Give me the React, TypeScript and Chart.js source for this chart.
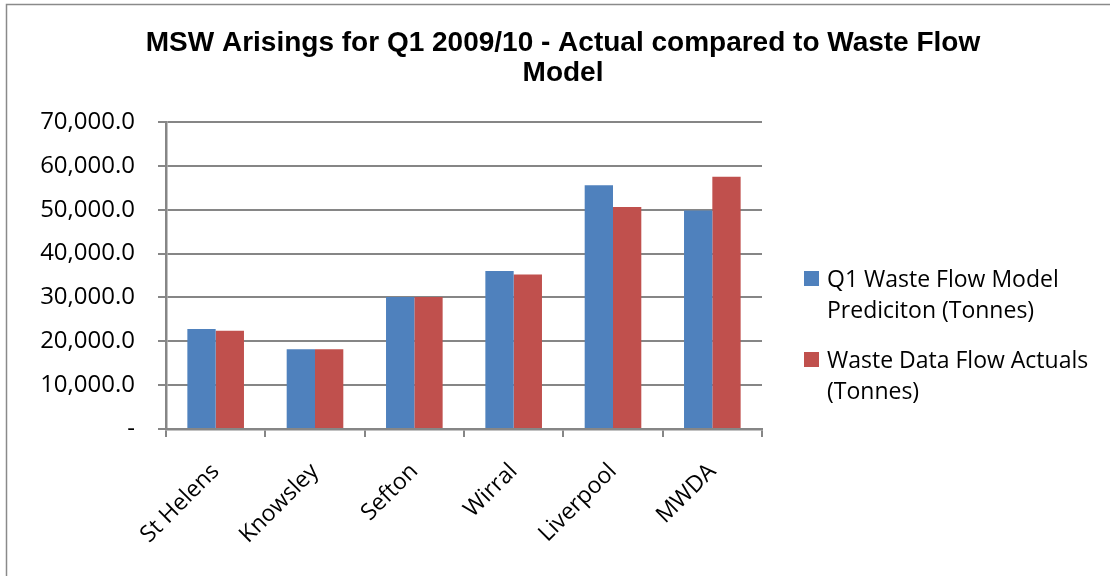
import React, { useEffect, useRef } from "react";
import { Chart, registerables } from "chart.js";

Chart.register(...registerables);

const categories = ["St Helens", "Knowsley", "Sefton", "Wirral", "Liverpool", "MWDA"];
const modelPrediction = [22800, 18200, 30100, 36000, 55600, 49800];
const actuals = [22400, 18200, 30100, 35200, 50600, 57500];
const seriesLabels = [
  ["Q1 Waste Flow Model", "Prediciton (Tonnes)"],
  ["Waste Data Flow Actuals", "(Tonnes)"],
];
const titleLines = ["MSW Arisings for Q1 2009/10 - Actual compared to Waste Flow", "Model"];
const yTicks = [0, 10000, 20000, 30000, 40000, 50000, 60000, 70000];

const BLUE = "#4F81BD";
const RED = "#C0504D";
const GRID = "#868686";
const TEXT_FONT = "'Open Sans', 'Noto Sans', sans-serif";
const TEXT_SIZE = 23;

const fmt = (v: number) =>
  v === 0 ? "-" : v.toLocaleString("en-US", { minimumFractionDigits: 1, maximumFractionDigits: 1 });

const decorPlugin = {
  id: "decor",
  afterDraw(chart: any) {
    const ctx = chart.ctx;
    ctx.save();
    // frame
    ctx.strokeStyle = "#8a8a8a";
    ctx.lineWidth = 1.5;
    ctx.strokeRect(6.5, 4.5, 1200, 700);
    // title
    ctx.fillStyle = "#000";
    ctx.font = "bold 28px 'Liberation Sans', Arial, sans-serif";
    ctx.textAlign = "center";
    ctx.textBaseline = "alphabetic";
    titleLines.forEach((t, i) => ctx.fillText(t, 563, 51 + i * 30));
    // legend
    ctx.textAlign = "left";
    ctx.font = TEXT_SIZE + "px " + TEXT_FONT;
    const startY = [271, 352];
    chart.data.datasets.forEach((ds: any, i: number) => {
      ctx.fillStyle = ds.backgroundColor;
      ctx.fillRect(804, startY[i], 15, 15);
      ctx.fillStyle = "#000";
      seriesLabels[i].forEach((line, j) => {
        ctx.fillText(line, 827, startY[i] + 16 + j * 31);
      });
    });
    ctx.restore();
  },
};

export default function App() {
  const ref = useRef<HTMLCanvasElement>(null);
  useEffect(() => {
    document.body.style.margin = "0";
    const chart = new Chart(ref.current!, {
      type: "bar",
      data: {
        labels: categories,
        datasets: [
          { label: seriesLabels[0].join(" "), data: modelPrediction, backgroundColor: BLUE },
          { label: seriesLabels[1].join(" "), data: actuals, backgroundColor: RED },
        ],
      },
      options: {
        animation: false,
        responsive: false,
        devicePixelRatio: 1,
        layout: { padding: { top: 122, left: 0, right: 348, bottom: 0 } },
        plugins: { legend: { display: false }, title: { display: false }, tooltip: { enabled: false } },
        datasets: { bar: { categoryPercentage: 0.57, barPercentage: 1 } },
        scales: {
          x: {
            offset: true,
            grid: {
              offset: true,
              drawOnChartArea: false,
              drawTicks: true,
              tickLength: 8,
              color: GRID,
              lineWidth: 2,
            },
            border: { color: GRID, width: 2.5 },
            ticks: {
              color: "#000",
              font: { family: TEXT_FONT, size: TEXT_SIZE },
              minRotation: 45,
              maxRotation: 45,
              padding: 21,
              autoSkip: false,
            },
            afterFit: (s: any) => {
              s.height = 576 - 429;
            },
          },
          y: {
            min: 0,
            max: 70000,
            afterBuildTicks: (s: any) => {
              s.ticks = yTicks.map((v) => ({ value: v }));
            },
            grid: { color: GRID, lineWidth: 2, tickLength: 8, drawTicks: true },
            border: { color: GRID, width: 2.5 },
            ticks: {
              color: "#000",
              font: { family: TEXT_FONT, size: 24 },
              padding: 23,
              callback: (v: any) => fmt(Number(v)),
            },
            afterFit: (s: any) => {
              s.width = 166;
            },
          },
        },
      },
      plugins: [decorPlugin],
    });
    return () => chart.destroy();
  }, []);
  return (
    <div style={{ position: "absolute", left: 0, top: 0, width: 1110, height: 576, background: "#fff" }}>
      <canvas ref={ref} width={1110} height={576} style={{ display: "block" }} />
    </div>
  );
}
